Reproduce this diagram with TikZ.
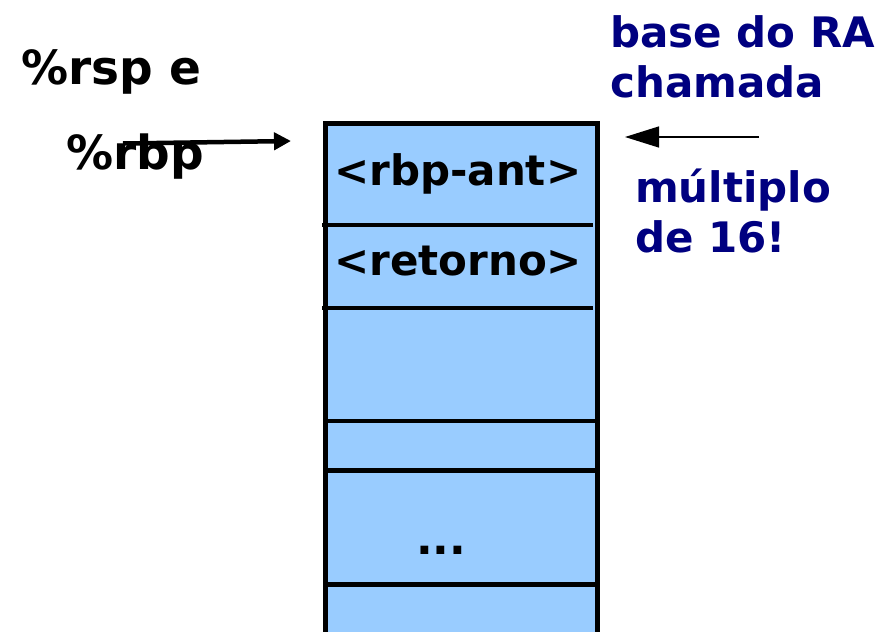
\documentclass[tikz,border=0pt]{standalone}
\usepackage{fontspec}
\setmainfont{DejaVu Sans}
\usetikzlibrary{arrows.meta}
\definecolor{cellblue}{HTML}{99CCFF}
\definecolor{navytext}{HTML}{000080}
\tikzset{
  lbl/.style={inner sep=0pt, anchor=base west, font=\bfseries\fontsize{42}{50}\selectfont},
  biglbl/.style={inner sep=0pt, anchor=base west, font=\bfseries\fontsize{47}{56}\selectfont},
  navy/.style={text=navytext},
  divider/.style={line width=4.5pt},
  stackframe/.style={line width=5.5pt},
}
\begin{document}
\begin{tikzpicture}[x=1pt,y=-1pt]
\useasboundingbox (0,0) rectangle (895,632);
% stack
\fill[cellblue] (325.5,123.5) rectangle (597.5,640);
\draw[stackframe] (325.5,640) -- (325.5,123.5) -- (597.5,123.5) -- (597.5,640);
\draw[divider] (322,225) -- (593,225);
\draw[divider] (322,308) -- (593,308);
\draw[divider] (325.5,421) -- (597.5,421);
\draw[divider] (325.5,470.5) -- (597.5,470.5);
\draw[divider] (325.5,584.5) -- (597.5,584.5);
% cell texts
\node[lbl] (rbpant) at (334,185) {<rbp-ant>};
\node[lbl] (ret) at (334,275) {<retorno>};
\node[lbl,font=\bfseries\fontsize{44}{50}\selectfont] (dots) at (416,554) {...};
% left labels
\node[biglbl] (rsp) at (21,84) {\%rsp e};
\node[biglbl] (rbp) at (66,169) {\%rbp};
\coordinate (rbpstart) at (123,143.5);
\coordinate (rbpend) at (291,141);
\draw[line width=4.5pt,-{Triangle[length=17pt,width=17pt]}] (rbpstart) -- (rbpend);
% right labels
\node[lbl,navy] (base) at (610,47) {base do RA};
\node[lbl,navy] (cham) at (610,97) {chamada};
\node[lbl,navy] (mult) at (635,202) {múltiplo};
\node[lbl,navy] (de16) at (635,252) {de 16!};
\coordinate (basestart) at (759,137);
\coordinate (baseend) at (625,137);
\draw[line width=1.3pt,-{Triangle[length=34pt,width=21pt]}] (basestart) -- (baseend);
\end{tikzpicture}
\end{document}
